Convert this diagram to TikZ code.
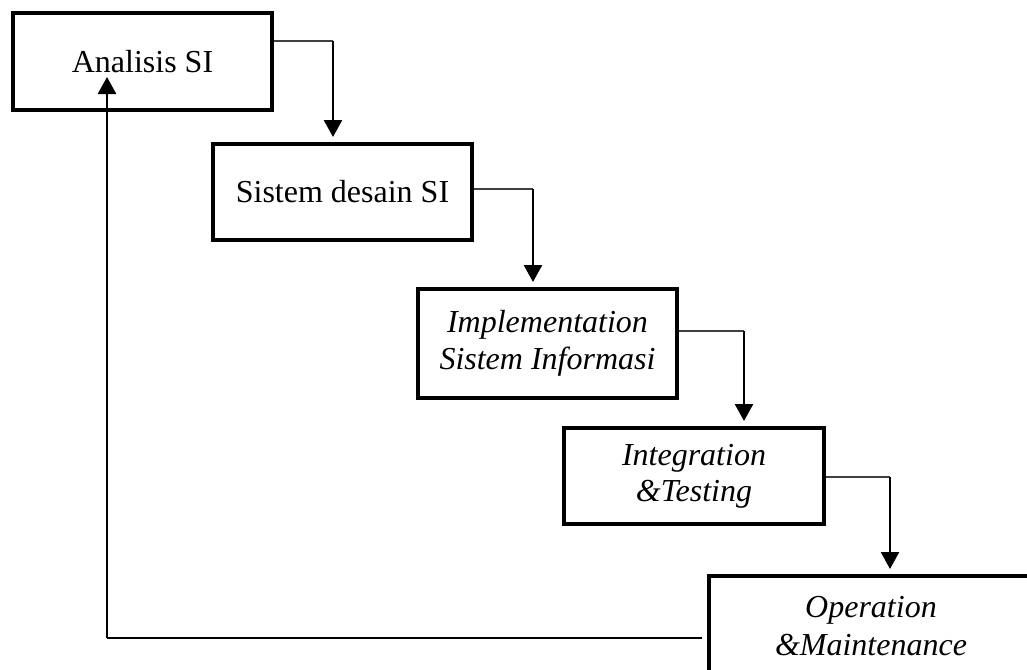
\documentclass[tikz,border=0pt]{standalone}
\usepackage{fontspec}
\setmainfont{Liberation Serif}
\usetikzlibrary{arrows.meta,calc}
\begin{document}
\begin{tikzpicture}[x=1pt,y=-1pt,
  stage/.style={draw,line width=4pt,inner sep=0pt,align=center,font=\fontsize{32}{37}\selectfont},
  hline/.style={line width=1.4pt,black!75},
  varrow/.style={line width=2.6pt,-{Triangle[width=18pt,length=17pt]}},
  lbl/.style={inner sep=0pt,align=center,font=\fontsize{32}{38}\selectfont\itshape}]
\useasboundingbox (0,0) rectangle (1027,669);
\begin{scope}
\clip (0,0) rectangle (1027,669);
\node[stage,minimum width=259pt,minimum height=97pt] (b1) at (142.5,61.5) {Analisis SI};
\node[stage,minimum width=259pt,minimum height=96pt] (b2) at (342.5,192) {Sistem desain SI};
\node[stage,minimum width=259pt,minimum height=109pt,font=\fontsize{32}{37}\selectfont\itshape] (b3) at (547.5,343.5) {Implementation\\Sistem Informasi};
\node[stage,minimum width=260pt,minimum height=96pt,font=\fontsize{32}{36}\selectfont\itshape] (b4) at (694,476) {Integration\\\&Testing};
\node[stage,minimum width=340pt,minimum height=130pt] (b5) at (879,641) {};
\node[lbl] (t5) at (871,626) {Operation\\\&Maintenance};
\end{scope}
% connectors
\coordinate (c1) at (333,41);
\coordinate (c2) at (533,189);
\coordinate (c3) at (744,331);
\coordinate (c4) at (890,477);
\draw[hline] (b1.east |- c1) -- (c1);
\draw[varrow] (c1) -- ([yshift=5pt]c1 |- b2.north);
\draw[hline] (b2.east |- c2) -- (c2);
\draw[varrow] (c2) -- ([yshift=5pt]c2 |- b3.north);
\draw[hline] (b3.east |- c3) -- (c3);
\draw[varrow] (c3) -- ([yshift=5pt]c3 |- b4.north);
\draw[hline] (b4.east |- c4) -- (c4);
\draw[varrow] (c4) -- ([yshift=5pt]c4 |- b5.north);
% feedback
\coordinate (f1) at (107,638);
\coordinate (f2) at (107,77);
\draw[line width=1.4pt] ([xshift=-5pt]b5.west |- f1) -- (f1);
\draw[varrow] (f1) -- (f2);
\end{tikzpicture}
\end{document}
